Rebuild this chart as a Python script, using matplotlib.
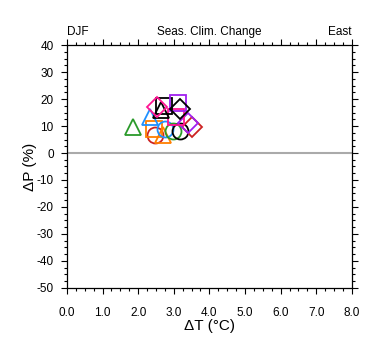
import numpy as np
import matplotlib.pyplot as plt
from matplotlib.ticker import MultipleLocator, FormatStrFormatter

plt.rcParams['font.family'] = ['Liberation Sans', 'DejaVu Sans']
plt.rcParams['axes.unicode_minus'] = False

# seasonal climate change per model (DJF, East)
dT = [1.85, 2.47, 2.44, 2.70, 2.75, 2.98, 3.17, 2.33, 3.50, 3.40, 3.05, 2.64, 2.72, 3.12, 3.17, 2.53]
dP = [9.6, 6.7, 8.9, 6.7, 8.9, 8.1, 8.1, 13.3, 9.6, 11.1, 13.3, 15.9, 17.4, 18.5, 16.3, 17.0]
shapes = ['^', 'o', 's', '^', 'o', 'o', 'o', '^', 'D', 'D', 's', '^', 's', 's', 'D', 'D']
colors = ['#2a9a2a', '#cc2222', '#ff7f00', '#ff7f00', '#1e90ff', '#2a9a2a', 'black', '#1e90ff',
          '#cc2222', '#a020f0', '#ff1493', 'black', 'black', '#a020f0', 'black', '#ff1493']

fig = plt.figure(figsize=(3.8, 3.55), dpi=100)
ax = fig.add_axes([0.176, 0.189, 0.75, 0.684])

ax.axhline(0, color='#aaaaaa', lw=1.5, zorder=1)

for x, y, m, c in zip(dT, dP, shapes, colors):
    size = 10 if m == 'D' else 11.5
    ax.plot(x, y, marker=m, ms=size, mfc='none', mec=c, mew=1.3, ls='none', zorder=3)

ax.set_xlim(0, 8)
ax.set_ylim(-50, 40)
ax.xaxis.set_major_locator(MultipleLocator(1))
ax.xaxis.set_minor_locator(MultipleLocator(0.25))
ax.yaxis.set_major_locator(MultipleLocator(10))
ax.yaxis.set_minor_locator(MultipleLocator(2.5))
ax.xaxis.set_major_formatter(FormatStrFormatter('%.1f'))

ax.tick_params(which='both', direction='out', top=True, right=True, labelsize=8.5,
               width=0.8, color='black')
ax.tick_params(which='major', length=4.5)
ax.tick_params(axis='x', which='major', pad=9)
ax.tick_params(axis='y', which='major', pad=5)
ax.tick_params(which='minor', length=2.5)
for s in ax.spines.values():
    s.set_linewidth(0.9)

ax.set_xlabel('ΔT (°C)', fontsize=11, labelpad=0)
ax.set_ylabel('ΔP (%)', fontsize=11, labelpad=0)

ax.set_title('DJF', loc='left', fontsize=8.5, pad=7)
ax.set_title('Seas. Clim. Change', loc='center', fontsize=8.5, pad=7)
ax.set_title('East', loc='right', fontsize=8.5, pad=7)

fig.savefig('out.png', dpi=100)
